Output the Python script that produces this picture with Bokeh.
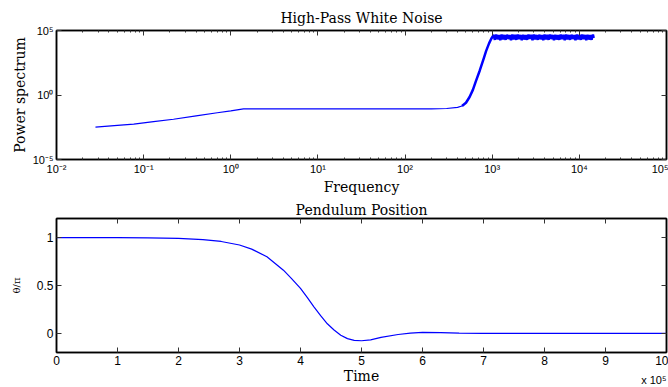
from bokeh.plotting import figure
from bokeh.models import (Range1d, FixedTicker, LogAxis, LinearAxis,
                          CustomJSTickFormatter, Title)
from bokeh.layouts import column
from bokeh.embed import file_html
from bokeh.resources import INLINE

# ---------------- data ----------------
# Top: power spectrum of high-pass white noise
freq_low = [0.028, 0.05, 0.077, 0.13, 0.22, 0.4, 0.7, 1.0, 1.4,
            2.0, 10.0, 50.0, 100.0, 200.0, 300.0, 400.0, 450.0]
power_low = [0.0032, 0.0044, 0.0055, 0.0085, 0.0132, 0.024, 0.042, 0.059, 0.083,
             0.083, 0.083, 0.083, 0.084, 0.085, 0.09, 0.11, 0.14]

freq_high = [450, 500, 550, 600, 650, 720, 800, 850, 920, 975,
             1000, 1036, 1073, 1112, 1152, 1194, 1237, 1282, 1328, 1376,
             1426, 1477, 1531, 1586, 1643, 1703, 1764, 1828, 1894, 1962,
             2033, 2107, 2183, 2262, 2343, 2428, 2516, 2607, 2701, 2798,
             2899, 3004, 3113, 3225, 3342, 3462, 3587, 3717, 3851, 3990,
             4134, 4284, 4438, 4599, 4765, 4937, 5115, 5300, 5491, 5690,
             5895, 6108, 6329, 6557, 6794, 7039, 7294, 7557, 7830, 8113,
             8406, 8710, 9024, 9350, 9688, 10038, 10401, 10776, 11166, 11569,
             11987, 12420, 12869, 13334, 13816, 14315, 14600]
power_high = [0.14, 0.25, 0.7, 2.5, 12, 80, 700, 2500, 1.0e4, 2.3e4,
              3.0e4, 4.6e4, 1.9e4, 4.8e4, 2.1e4, 4.4e4, 1.8e4, 4.9e4, 2.0e4, 4.5e4,
              1.9e4, 4.7e4, 2.2e4, 4.4e4, 1.8e4, 4.8e4, 2.0e4, 4.6e4, 1.9e4, 4.9e4,
              2.1e4, 4.5e4, 1.8e4, 4.7e4, 2.0e4, 4.4e4, 1.9e4, 4.8e4, 2.2e4, 4.6e4,
              1.8e4, 4.9e4, 2.0e4, 4.5e4, 1.9e4, 4.7e4, 2.1e4, 4.4e4, 1.8e4, 4.8e4,
              2.0e4, 4.6e4, 1.9e4, 4.9e4, 2.2e4, 4.5e4, 1.8e4, 4.7e4, 2.0e4, 4.4e4,
              1.9e4, 4.8e4, 2.1e4, 4.6e4, 1.8e4, 4.9e4, 2.0e4, 4.5e4, 1.9e4, 4.7e4,
              2.2e4, 4.4e4, 1.8e4, 4.8e4, 2.0e4, 4.6e4, 1.9e4, 4.9e4, 2.1e4, 4.5e4,
              1.8e4, 4.7e4, 2.0e4, 4.4e4, 1.9e4, 4.8e4, 2.6e4]

# Bottom: pendulum position (time in units of 1e5)
time_e5 = [0, 0.5, 1.0, 1.5, 2.0, 2.4, 2.7, 3.0, 3.2, 3.45, 3.72, 3.85, 4.0,
           4.11, 4.22, 4.33, 4.44, 4.55, 4.66, 4.77, 4.88, 5.0, 5.15, 5.32,
           5.6, 5.8, 6.0, 6.3, 6.6, 7.0, 7.5, 8.0, 9.0, 10.0]
theta_over_pi = [1.0, 1.0, 1.0, 0.998, 0.993, 0.98, 0.96, 0.923, 0.88, 0.80, 0.66,
                 0.575, 0.469, 0.375, 0.277, 0.185, 0.10, 0.035, -0.02, -0.055,
                 -0.073, -0.077, -0.068, -0.042, -0.012, 0.003, 0.01, 0.008,
                 0.003, 0.0, -0.001, 0.0, 0.0, 0.0]

# ticks
x_log_ticks = [1e-2, 1e-1, 1e0, 1e1, 1e2, 1e3, 1e4, 1e5]
x_log_minor = [m * 10.0 ** e for e in range(-2, 5) for m in range(2, 10)]
y_log_ticks = [1e-5, 1e0, 1e5]
time_ticks = [0, 1, 2, 3, 4, 5, 6, 7, 8, 9, 10]
theta_ticks = [0, 0.5, 1]

SERIF = "'DejaVu Serif'"
SANS = "'Liberation Sans'"
BLUE = "#0000ff"

sup_code = """
const e = Math.round(Math.log10(tick));
const m = {"-":"\u207b","0":"\u2070","1":"\u00b9","2":"\u00b2","3":"\u00b3",
           "4":"\u2074","5":"\u2075","6":"\u2076","7":"\u2077","8":"\u2078","9":"\u2079"};
return "10" + String(e).split("").map(c => m[c]).join("");
"""
plain_code = "return String(tick);"


def style_axis(ax, label_size="11px"):
    ax.axis_line_color = "black"
    ax.axis_line_width = 1.5
    ax.major_tick_in = 5
    ax.major_tick_out = 0
    ax.minor_tick_in = 2
    ax.minor_tick_out = 0
    ax.major_tick_line_color = "#333333"
    ax.minor_tick_line_color = "#333333"
    ax.major_label_text_font = SANS
    ax.major_label_text_font_size = label_size
    ax.major_label_text_color = "black"
    ax.major_label_standoff = 3
    ax.axis_label_text_font = SERIF
    ax.axis_label_text_font_size = "14px"
    ax.axis_label_text_font_style = "normal"
    ax.axis_label_text_color = "black"
    ax.axis_label_standoff = 2


def hidden_axis(cls, ticker):
    ax = cls(ticker=ticker)
    style_axis(ax)
    ax.major_label_text_font_size = "1px"
    ax.major_label_text_color = None
    ax.major_label_standoff = 0
    return ax


def style_fig(p, standoff, valign):
    p.grid.visible = False
    p.outline_line_color = "black"
    p.outline_line_width = 1.5
    p.background_fill_color = "white"
    p.border_fill_color = "white"
    p.title.text_font = SERIF
    p.title.text_font_size = "14px"
    p.title.text_font_style = "normal"
    p.title.align = "center"
    p.title.vertical_align = valign
    p.title.standoff = standoff
    p.title.text_color = "black"


# ---------------- top figure ----------------
p1 = figure(width=668, height=197, x_axis_type="log", y_axis_type="log",
            x_range=Range1d(1e-2, 1e5), y_range=Range1d(1e-5, 1e5),
            title="High-Pass White Noise", output_backend="svg",
            toolbar_location=None, min_border_left=56, min_border_right=2,
            min_border_top=30, min_border_bottom=34)
style_fig(p1, 6, "top")

xt1 = FixedTicker(ticks=x_log_ticks, minor_ticks=x_log_minor)
yt1 = FixedTicker(ticks=y_log_ticks, minor_ticks=[])
p1.xaxis.ticker = xt1
p1.yaxis.ticker = yt1
p1.xaxis.formatter = CustomJSTickFormatter(code=sup_code)
p1.yaxis.formatter = CustomJSTickFormatter(code=sup_code)
style_axis(p1.xaxis[0])
style_axis(p1.yaxis[0])
p1.xaxis.axis_label = "Frequency"
p1.yaxis.axis_label = "Power spectrum"
p1.xaxis.axis_label_standoff = 1
p1.add_layout(hidden_axis(LogAxis, xt1), "above")
p1.add_layout(hidden_axis(LogAxis, yt1), "right")

p1.line(freq_low, power_low, line_color=BLUE, line_width=1.2)
p1.line(freq_high, power_high, line_color=BLUE, line_width=2.5)

# ---------------- bottom figure ----------------
p2 = figure(width=668, height=190, x_range=Range1d(0, 10), y_range=Range1d(-0.2, 1.2),
            title="Pendulum Position", output_backend="svg",
            toolbar_location=None, min_border_left=56, min_border_right=2,
            min_border_top=21, min_border_bottom=35)
style_fig(p2, 2, "bottom")

xt2 = FixedTicker(ticks=time_ticks, minor_ticks=[])
yt2 = FixedTicker(ticks=theta_ticks, minor_ticks=[])
p2.xaxis.ticker = xt2
p2.yaxis.ticker = yt2
p2.xaxis.formatter = CustomJSTickFormatter(code=plain_code)
p2.yaxis.formatter = CustomJSTickFormatter(code=plain_code)
style_axis(p2.xaxis[0], "12px")
style_axis(p2.yaxis[0], "12px")
p2.xaxis.axis_label = "Time"
p2.xaxis.axis_label_standoff = 0
p2.yaxis.axis_label = "\u03b8/\u03c0"
p2.yaxis.axis_label_text_font_size = "10px"
p2.yaxis.axis_label_standoff = 12
p2.add_layout(hidden_axis(LinearAxis, xt2), "above")
p2.add_layout(hidden_axis(LinearAxis, yt2), "right")

p2.line(time_e5, theta_over_pi, line_color=BLUE, line_width=1.2)

# exponent note under the right end of the time axis
p2.add_layout(Title(text="x 10\u2075", align="right", vertical_align="top", standoff=-26,
                    text_font=SANS, text_font_size="11px", text_font_style="normal",
                    text_color="black"), "below")

layout = column(p1, p2)
open("out.html", "w").write(file_html(layout, INLINE))
